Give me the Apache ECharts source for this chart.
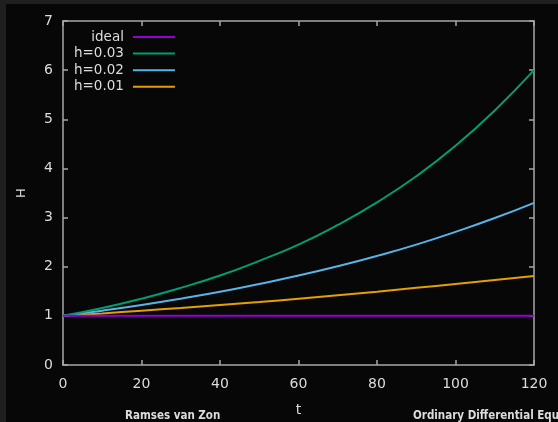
<!DOCTYPE html>
<html><head><meta charset="utf-8">
<script src="https://cdn.jsdelivr.net/npm/echarts@6/dist/echarts.min.js"></script>
<style>html,body{margin:0;padding:0;background:#1f1f1f;}#c{width:558px;height:422px;}</style>
</head><body><div id="c"></div>
<script>
const tValues = [0, 10, 20, 30, 40, 50, 60, 70, 80, 90, 100, 110, 120];
const ideal  = [1, 1, 1, 1, 1, 1, 1, 1, 1, 1, 1, 1, 1];
const h003   = [1, 1.16, 1.35, 1.57, 1.82, 2.12, 2.45, 2.85, 3.31, 3.84, 4.46, 5.18, 6.0];
const h002   = [1, 1.105, 1.22, 1.35, 1.49, 1.65, 1.82, 2.01, 2.22, 2.45, 2.71, 2.99, 3.30];
const h001   = [1, 1.05, 1.105, 1.16, 1.22, 1.28, 1.35, 1.42, 1.49, 1.57, 1.65, 1.73, 1.81];
const seriesNames = ['ideal', 'h=0.03', 'h=0.02', 'h=0.01'];
const seriesColors = ['#9400d3', '#009e73', '#56b4e9', '#e69f00'];
const seriesData = [ideal, h003, h002, h001];

const chart = echarts.init(document.getElementById('c'), null, {renderer: 'canvas'});
const font = 'DejaVu Sans';
const axisCol = '#a8a8a8';
const txtCol = '#dcdcdc';
const baseX = {
  type: 'value', min: 0, max: 120, interval: 20,
  axisLine: {show: true, onZero: false, lineStyle: {color: axisCol, width: 1.5}},
  axisTick: {show: true, inside: true, length: 5, lineStyle: {color: axisCol, width: 1.5}},
  splitLine: {show: false}
};
const baseY = {
  type: 'value', min: 0, max: 7, interval: 1,
  axisLine: {show: true, onZero: false, lineStyle: {color: axisCol, width: 1.5}},
  axisTick: {show: true, inside: true, length: 5, lineStyle: {color: axisCol, width: 1.5}},
  splitLine: {show: false}
};
chart.setOption({
  backgroundColor: '#1f1f1f',
  animation: false,
  graphic: [
    {type: 'rect', z: -10, shape: {x: 6, y: 4, width: 560, height: 430}, style: {fill: '#070707'}, silent: true},
    {type: 'text', left: 125, top: 410, style: {text: 'Ramses van Zon', fill: txtCol, font: 'bold 11.5px "DejaVu Sans Condensed", "DejaVu Sans"'}},
    {type: 'text', left: 413, top: 410, style: {text: 'Ordinary Differential Equations', fill: txtCol, font: 'bold 11.5px "DejaVu Sans Condensed", "DejaVu Sans"'}}
  ],
  grid: {left: 63, top: 21, right: 24, bottom: 54, containLabel: false},
  legend: {
    orient: 'vertical', align: 'right', left: 69, top: 25,
    icon: 'rect', itemWidth: 42, itemHeight: 2, itemGap: 2.6,
    textStyle: {color: txtCol, fontFamily: font, fontSize: 13.5, lineHeight: 14, padding: [0, 4, 0, 0]},
    data: seriesNames
  },
  xAxis: [
    Object.assign({}, baseX, {position: 'bottom', name: 't', nameLocation: 'middle', nameGap: 38,
      nameTextStyle: {color: txtCol, fontFamily: font, fontSize: 14},
      axisLabel: {color: txtCol, fontFamily: font, fontSize: 14, margin: 12}}),
    Object.assign({}, baseX, {position: 'top', axisLabel: {show: false}})
  ],
  yAxis: [
    Object.assign({}, baseY, {position: 'left', name: 'H', nameLocation: 'middle', nameGap: 35,
      nameTextStyle: {color: txtCol, fontFamily: font, fontSize: 13},
      axisLabel: {color: txtCol, fontFamily: font, fontSize: 14, margin: 10}}),
    Object.assign({}, baseY, {position: 'right', axisLabel: {show: false}})
  ],
  series: seriesNames.map((n, i) => ({
    name: n, type: 'line', smooth: true, showSymbol: false, symbol: 'none',
    color: seriesColors[i],
    lineStyle: {width: 2, color: seriesColors[i]},
    data: tValues.map((t, k) => [t, seriesData[i][k]]),
    z: 10 - i
  }))
});
</script></body></html>
